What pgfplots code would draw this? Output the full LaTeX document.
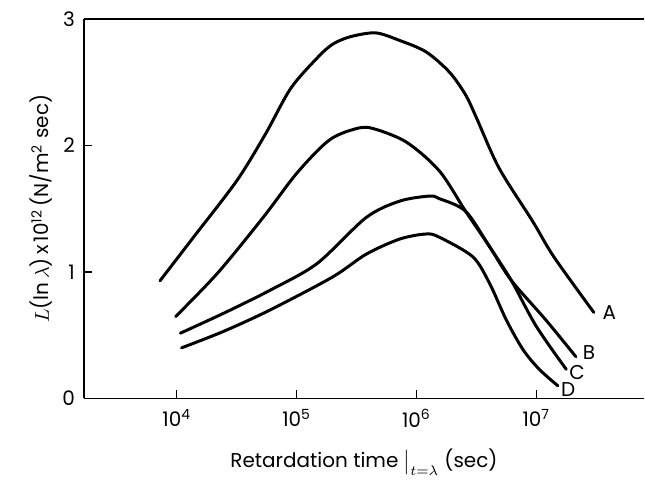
\documentclass[border=0pt]{standalone}
\usepackage{pgfplots}
\pgfplotsset{compat=1.18}
\usepackage{fontspec}
\setmainfont{Poppins}

\begin{document}
\begin{tikzpicture}
\begin{axis}[
    scale only axis,
    width=280.5pt, height=190pt,
    xmode=log,
    xmin=1679, xmax=7.94e7,
    ymin=0, ymax=3,
    axis lines=left,
    axis line style={-, line width=0.9pt},
    tick align=inside,
    major tick length=4pt,
    tick style={black, line width=0.7pt},
    xtick={1e4,1e5,1e6,1e7},
    xticklabels={10\textsuperscript{4},10\textsuperscript{5},10\textsuperscript{6},10\textsuperscript{7}},
    ytick={0,1,2,3},
    yticklabels={0,1,2,3},
    xminorticks=false,
    tick label style={font=\fontsize{10}{12}\selectfont},
    xticklabel style={yshift=-2pt},
    yticklabel style={xshift=-1pt},
    label style={font=\fontsize{10}{12}\selectfont},
    xlabel={Retardation time $\big|_{t=\lambda}$ (sec)},
    ylabel={$L$(ln\,$\lambda$)\,x\,10\textsuperscript{12}\,(N/m\textsuperscript{2} sec)},
    xlabel style={yshift=-4pt},
    ylabel style={yshift=-2pt},
    clip=false,
    cycle list={{black}},
    every axis plot/.append style={black, mark=none, line width=1.5pt, smooth, line cap=round},
]
% A
\addplot coordinates {
(7244,0.93) (13804,1.275) (31623,1.72) (54954,2.09) (89125,2.45)
(147911,2.69) (199526,2.80) (281838,2.86) (457088,2.89) (724436,2.83)
(1202264,2.74) (1883649,2.58) (2570396,2.40) (3162278,2.22) (4897788,1.82)
(9332543,1.40) (14000000,1.12) (30199517,0.68)};
% B
\addplot coordinates {
(9772,0.647) (21878,0.99) (52481,1.43) (94406,1.75) (147911,1.955)
(199526,2.06) (281838,2.12) (407380,2.14) (812831,2.03) (1548817,1.80)
(2570396,1.48) (4073803,1.20) (6165950,0.935) (12022644,0.62)
(21379621,0.33)};
% C
\addplot coordinates {
(10715,0.516) (24547,0.673) (60256,0.856) (147911,1.066)
(380189,1.43) (724436,1.56) (1288250,1.60) (1548817,1.58)
(2570396,1.48) (4073803,1.20) (6165950,0.935) (10000000,0.57) (17782794,0.23)};
% D
\addplot coordinates {
(10965,0.40) (24547,0.53) (60256,0.70) (199526,0.96)
(380189,1.14) (724436,1.26) (1202264,1.30) (1548817,1.275) (2951209,1.12)
(4073803,0.91) (5623413,0.62) (7762471,0.385) (10592537,0.23) (15135612,0.10)};
\node[font=\fontsize{10}{12}\selectfont] at (axis cs:4.07e7,0.676) {A};
\node[font=\fontsize{10}{12}\selectfont] at (axis cs:2.75e7,0.36) {B};
\node[font=\fontsize{10}{12}\selectfont] at (axis cs:2.19e7,0.204) {C};
\node[font=\fontsize{10}{12}\selectfont] at (axis cs:1.85e7,0.07) {D};
\end{axis}
\draw[line width=0.9pt] (current axis.north west) -- (current axis.north east);
\path ([shift={(-42pt,-39pt)}]current axis.south west) rectangle ([shift={(0pt,9.5pt)}]current axis.north east);
\end{tikzpicture}
\end{document}
